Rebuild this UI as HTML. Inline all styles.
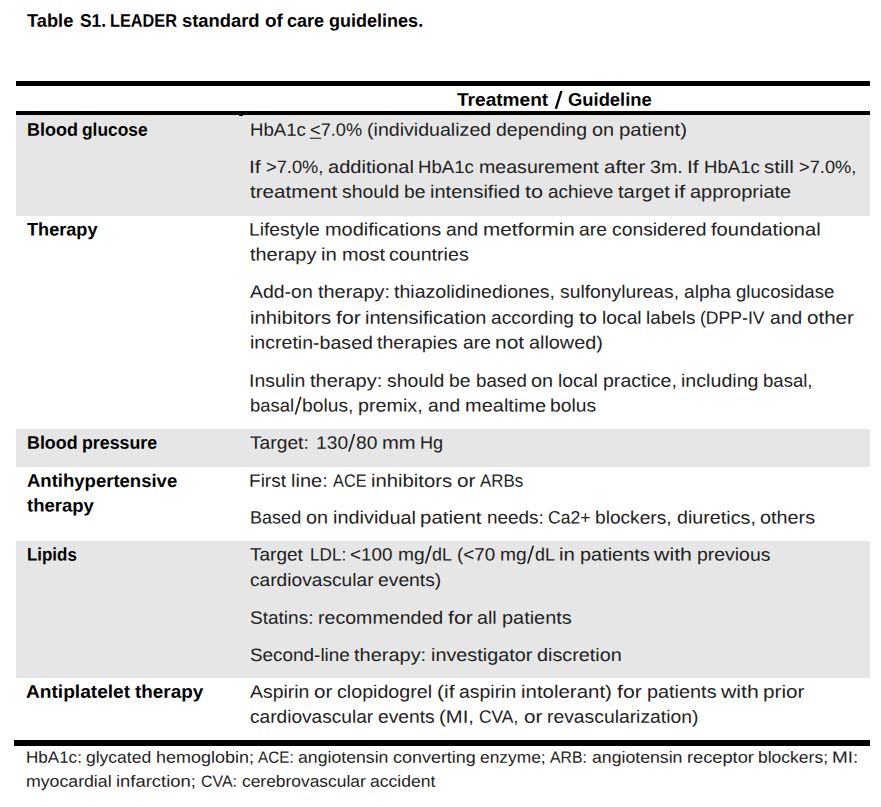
<!DOCTYPE html>
<html><head><meta charset="utf-8"><title>Table S1. LEADER standard of care guidelines</title>
<style>
html,body{margin:0;padding:0;background:#fff;}
body{width:881px;height:807px;position:relative;overflow:hidden;font-family:"Liberation Sans",sans-serif;text-rendering:geometricPrecision;}
.g{position:absolute;left:16px;width:854px;background:#e6e6e6;}
.k{position:absolute;background:#000;}
.l{position:absolute;left:0;height:30px;line-height:30px;white-space:nowrap;}
.l span{position:absolute;top:0;transform-origin:0 0;white-space:nowrap;}
.b{font-weight:bold;font-size:18.2px;color:#000;}
.r{font-size:18px;color:#222;}
.f{font-size:16.3px;color:#222;}
u{text-decoration:none;border-bottom:1.2px solid #111;display:inline-block;line-height:15px;}
</style></head><body>
<div class="g" style="top:115px;height:101px"></div>
<div class="g" style="top:429px;height:37.5px"></div>
<div class="g" style="top:541px;height:137px"></div>
<div class="k" style="left:16px;width:854px;top:81px;height:5px"></div>
<div class="k" style="left:16px;width:854px;top:111px;height:4px"></div>
<div class="k" style="left:239px;width:4px;top:115px;height:1px"></div>
<div class="k" style="left:14px;width:856px;top:740px;height:5.8px"></div>
<div class="l b" style="top:5.000px">
<span style="left:27.09px;transform:matrix(1.0034,0.0006,0,1,0,0.70)">Table</span>
<span style="left:79.53px;transform:matrix(0.9568,0.0006,0,1,0,0.70)">S1.</span>
<span style="left:110.41px;transform:matrix(0.8962,0.0006,0,1,0,0.70)">LEADER</span>
<span style="left:182.21px;transform:matrix(1.0094,0.0006,0,1,0,0.70)">standard</span>
<span style="left:264.53px;transform:matrix(1.0412,0.0006,0,1,0,0.70)">of</span>
<span style="left:287.16px;transform:matrix(0.9913,0.0006,0,1,0,0.70)">care</span>
<span style="left:329.02px;transform:matrix(0.9911,0.0006,0,1,0,0.70)">guidelines.</span>
</div>
<div class="l b" style="top:84.000px">
<span style="left:457.09px;transform:matrix(1.0489,0.0006,0,1,0,0.80)">Treatment</span>
<svg style="position:absolute;left:0;top:-84.000px;overflow:visible" width="881" height="10"><polygon fill="#000" points="554.60,108.65 557.05,108.65 562.66,91.05 560.21,91.05"/></svg>
<span style="left:567.89px;transform:matrix(1.0110,0.0006,0,1,0,0.80)">Guideline</span>
</div>
<div class="l b" style="top:114.000px">
<span style="left:26.80px;transform:matrix(0.9879,0.0006,0,1,0,0.80)">Blood</span>
<span style="left:82.49px;transform:matrix(0.9539,0.0006,0,1,0,0.80)">glucose</span>
</div>
<div class="l b" style="top:214.000px">
<span style="left:26.95px;transform:matrix(0.9965,0.0006,0,1,0,0.50)">Therapy</span>
</div>
<div class="l b" style="top:427.000px">
<span style="left:27.01px;transform:matrix(0.9812,0.0006,0,1,0,0.75)">Blood</span>
<span style="left:82.32px;transform:matrix(0.9766,0.0006,0,1,0,0.75)">pressure</span>
</div>
<div class="l b" style="top:465.000px">
<span style="left:26.54px;transform:matrix(1.0178,0.0006,0,1,0,0.85)">Antihypertensive</span>
</div>
<div class="l b" style="top:490.000px">
<span style="left:27.17px;transform:matrix(1.0180,0.0006,0,1,0,0.60)">therapy</span>
</div>
<div class="l b" style="top:539.000px">
<span style="left:27.07px;transform:matrix(0.9298,0.0006,0,1,0,0.60)">Lipids</span>
</div>
<div class="l b" style="top:676.000px">
<span style="left:26.42px;transform:matrix(1.0508,0.0006,0,1,0,0.80)">Antiplatelet</span>
<span style="left:135.30px;transform:matrix(1.0373,0.0006,0,1,0,0.80)">therapy</span>
</div>
<div class="l r" style="top:114.000px">
<span style="left:249.67px;transform:matrix(1.0348,0.0006,0,1,0,0.80)">HbA1c</span>
<span style="left:310.33px;transform:matrix(1.0121,0.0006,0,1,0,0.80)"><u>&lt;</u>7.0%</span>
<span style="left:367.25px;transform:matrix(1.0886,0.0006,0,1,0,0.80)">(individualized</span>
<span style="left:496.18px;transform:matrix(1.0817,0.0006,0,1,0,0.80)">depending</span>
<span style="left:591.89px;transform:matrix(1.1064,0.0006,0,1,0,0.80)">on</span>
<span style="left:618.80px;transform:matrix(1.1321,0.0006,0,1,0,0.80)">patient)</span>
</div>
<div class="l r" style="top:152.000px">
<span style="left:249.15px;transform:matrix(1.1714,0.0006,0,1,0,0.00)">If</span>
<span style="left:265.62px;transform:matrix(1.0149,0.0006,0,1,0,0.00)">&gt;7.0%,</span>
<span style="left:327.76px;transform:matrix(1.1148,0.0006,0,1,0,0.00)">additional</span>
<span style="left:418.42px;transform:matrix(1.0341,0.0006,0,1,0,0.00)">HbA1c</span>
<span style="left:479.04px;transform:matrix(1.0883,0.0006,0,1,0,0.00)">measurement</span>
<span style="left:603.56px;transform:matrix(1.1475,0.0006,0,1,0,0.00)">after</span>
<span style="left:649.64px;transform:matrix(1.0920,0.0006,0,1,0,0.00)">3m.</span>
<span style="left:687.16px;transform:matrix(1.1714,0.0006,0,1,0,0.00)">If</span>
<span style="left:703.63px;transform:matrix(1.0341,0.0006,0,1,0,0.00)">HbA1c</span>
<span style="left:764.26px;transform:matrix(1.1442,0.0006,0,1,0,0.00)">still</span>
<span style="left:798.76px;transform:matrix(1.0149,0.0006,0,1,0,0.00)">&gt;7.0%,</span>
</div>
<div class="l r" style="top:176.000px">
<span style="left:249.89px;transform:matrix(1.1463,0.0006,0,1,0,0.75)">treatment</span>
<span style="left:341.79px;transform:matrix(1.0781,0.0006,0,1,0,0.75)">should</span>
<span style="left:403.72px;transform:matrix(1.0726,0.0006,0,1,0,0.75)">be</span>
<span style="left:429.94px;transform:matrix(1.1114,0.0006,0,1,0,0.75)">intensified</span>
<span style="left:524.77px;transform:matrix(1.2058,0.0006,0,1,0,0.75)">to</span>
<span style="left:547.61px;transform:matrix(1.0501,0.0006,0,1,0,0.75)">achieve</span>
<span style="left:617.51px;transform:matrix(1.1246,0.0006,0,1,0,0.75)">target</span>
<span style="left:674.02px;transform:matrix(1.2471,0.0006,0,1,0,0.75)">if</span>
<span style="left:689.99px;transform:matrix(1.1113,0.0006,0,1,0,0.75)">appropriate</span>
</div>
<div class="l r" style="top:214.000px">
<span style="left:249.32px;transform:matrix(1.0700,0.0006,0,1,0,0.50)">Lifestyle</span>
<span style="left:324.73px;transform:matrix(1.1067,0.0006,0,1,0,0.50)">modifications</span>
<span style="left:445.74px;transform:matrix(1.0717,0.0006,0,1,0,0.50)">and</span>
<span style="left:482.68px;transform:matrix(1.1480,0.0006,0,1,0,0.50)">metformin</span>
<span style="left:579.30px;transform:matrix(1.0717,0.0006,0,1,0,0.50)">are</span>
<span style="left:611.93px;transform:matrix(1.0729,0.0006,0,1,0,0.50)">considered</span>
<span style="left:711.17px;transform:matrix(1.1182,0.0006,0,1,0,0.50)">foundational</span>
</div>
<div class="l r" style="top:239.000px">
<span style="left:250.10px;transform:matrix(1.1047,0.0006,0,1,0,0.50)">therapy</span>
<span style="left:321.16px;transform:matrix(1.1296,0.0006,0,1,0,0.50)">in</span>
<span style="left:341.73px;transform:matrix(1.1030,0.0006,0,1,0,0.50)">most</span>
<span style="left:389.49px;transform:matrix(1.0915,0.0006,0,1,0,0.50)">countries</span>
</div>
<div class="l r" style="top:276.000px">
<span style="left:250.26px;transform:matrix(1.0802,0.0006,0,1,0,0.70)">Add-on</span>
<span style="left:317.70px;transform:matrix(1.1068,0.0006,0,1,0,0.70)">therapy:</span>
<span style="left:394.43px;transform:matrix(1.0871,0.0006,0,1,0,0.70)">thiazolidinediones,</span>
<span style="left:560.18px;transform:matrix(1.0725,0.0006,0,1,0,0.70)">sulfonylureas,</span>
<span style="left:684.04px;transform:matrix(1.0663,0.0006,0,1,0,0.70)">alpha</span>
<span style="left:735.74px;transform:matrix(1.0350,0.0006,0,1,0,0.70)">glucosidase</span>
</div>
<div class="l r" style="top:302.000px">
<span style="left:249.74px;transform:matrix(1.1268,0.0006,0,1,0,0.75)">inhibitors</span>
<span style="left:335.65px;transform:matrix(1.1803,0.0006,0,1,0,0.75)">for</span>
<span style="left:365.19px;transform:matrix(1.1138,0.0006,0,1,0,0.75)">intensification</span>
<span style="left:491.42px;transform:matrix(1.0628,0.0006,0,1,0,0.75)">according</span>
<span style="left:579.11px;transform:matrix(1.2058,0.0006,0,1,0,0.75)">to</span>
<span style="left:601.96px;transform:matrix(1.0706,0.0006,0,1,0,0.75)">local</span>
<span style="left:646.34px;transform:matrix(1.0498,0.0006,0,1,0,0.75)">labels</span>
<span style="left:700.45px;transform:matrix(0.9786,0.0006,0,1,0,0.75)">(DPP-IV</span>
<span style="left:769.79px;transform:matrix(1.0692,0.0006,0,1,0,0.75)">and</span>
<span style="left:806.65px;transform:matrix(1.1429,0.0006,0,1,0,0.75)">other</span>
</div>
<div class="l r" style="top:327.000px">
<span style="left:249.69px;transform:matrix(1.0870,0.0006,0,1,0,0.60)">incretin-based</span>
<span style="left:377.34px;transform:matrix(1.0885,0.0006,0,1,0,0.60)">therapies</span>
<span style="left:462.70px;transform:matrix(1.0722,0.0006,0,1,0,0.60)">are</span>
<span style="left:495.35px;transform:matrix(1.1673,0.0006,0,1,0,0.60)">not</span>
<span style="left:529.32px;transform:matrix(1.1010,0.0006,0,1,0,0.60)">allowed)</span>
</div>
<div class="l r" style="top:365.000px">
<span style="left:249.10px;transform:matrix(1.0831,0.0006,0,1,0,0.70)">Insulin</span>
<span style="left:310.21px;transform:matrix(1.1100,0.0006,0,1,0,0.70)">therapy:</span>
<span style="left:387.17px;transform:matrix(1.0806,0.0006,0,1,0,0.70)">should</span>
<span style="left:449.24px;transform:matrix(1.0751,0.0006,0,1,0,0.70)">be</span>
<span style="left:475.52px;transform:matrix(1.0376,0.0006,0,1,0,0.70)">based</span>
<span style="left:531.17px;transform:matrix(1.1064,0.0006,0,1,0,0.70)">on</span>
<span style="left:558.08px;transform:matrix(1.0732,0.0006,0,1,0,0.70)">local</span>
<span style="left:602.56px;transform:matrix(1.0858,0.0006,0,1,0,0.70)">practice,</span>
<span style="left:681.18px;transform:matrix(1.0909,0.0006,0,1,0,0.70)">including</span>
<span style="left:763.45px;transform:matrix(1.0310,0.0006,0,1,0,0.70)">basal,</span>
</div>
<div class="l r" style="top:390.000px">
<span style="left:249.91px;transform:matrix(1.0261,0.0006,0,1,0,0.60)">basal</span>
<svg style="position:absolute;left:0;top:-390.000px;overflow:visible" width="881" height="10"><polygon fill="#222" points="294.55,414.45 296.30,414.45 301.69,396.85 299.94,396.85"/></svg>
<span style="left:302.17px;transform:matrix(1.0697,0.0006,0,1,0,0.60)">bolus,</span>
<span style="left:358.30px;transform:matrix(1.0963,0.0006,0,1,0,0.60)">premix,</span>
<span style="left:427.73px;transform:matrix(1.0690,0.0006,0,1,0,0.60)">and</span>
<span style="left:464.58px;transform:matrix(1.1110,0.0006,0,1,0,0.60)">mealtime</span>
<span style="left:550.45px;transform:matrix(1.0723,0.0006,0,1,0,0.60)">bolus</span>
</div>
<div class="l r" style="top:427.000px">
<span style="left:249.87px;transform:matrix(1.0677,0.0006,0,1,0,0.75)">Target:</span>
<span style="left:315.52px;transform:matrix(1.0682,0.0006,0,1,0,0.75)">130</span>
<svg style="position:absolute;left:0;top:-427.000px;overflow:visible" width="881" height="10"><polygon fill="#222" points="348.09,451.60 349.84,451.60 355.27,434.00 353.52,434.00"/></svg>
<span style="left:355.75px;transform:matrix(1.0682,0.0006,0,1,0,0.75)">80</span>
<span style="left:381.91px;transform:matrix(1.1240,0.0006,0,1,0,0.75)">mm</span>
<span style="left:420.39px;transform:matrix(1.0029,0.0006,0,1,0,0.75)">Hg</span>
</div>
<div class="l r" style="top:465.000px">
<span style="left:249.44px;transform:matrix(1.0584,0.0006,0,1,0,0.85)">First</span>
<span style="left:291.22px;transform:matrix(1.1125,0.0006,0,1,0,0.85)">line:</span>
<span style="left:332.70px;transform:matrix(0.9078,0.0006,0,1,0,0.85)">ACE</span>
<span style="left:371.05px;transform:matrix(1.1271,0.0006,0,1,0,0.85)">inhibitors</span>
<span style="left:456.98px;transform:matrix(1.1492,0.0006,0,1,0,0.85)">or</span>
<span style="left:480.13px;transform:matrix(0.9386,0.0006,0,1,0,0.85)">ARBs</span>
</div>
<div class="l r" style="top:502.000px">
<span style="left:249.72px;transform:matrix(1.0031,0.0006,0,1,0,0.60)">Based</span>
<span style="left:305.67px;transform:matrix(1.1046,0.0006,0,1,0,0.60)">on</span>
<span style="left:332.53px;transform:matrix(1.1057,0.0006,0,1,0,0.60)">individual</span>
<span style="left:420.27px;transform:matrix(1.1377,0.0006,0,1,0,0.60)">patient</span>
<span style="left:486.50px;transform:matrix(1.0513,0.0006,0,1,0,0.60)">needs:</span>
<span style="left:548.07px;transform:matrix(0.9734,0.0006,0,1,0,0.60)">Ca2+</span>
<span style="left:595.19px;transform:matrix(1.0636,0.0006,0,1,0,0.60)">blockers,</span>
<span style="left:676.55px;transform:matrix(1.0951,0.0006,0,1,0,0.60)">diuretics,</span>
<span style="left:760.17px;transform:matrix(1.1023,0.0006,0,1,0,0.60)">others</span>
</div>
<div class="l r" style="top:539.000px">
<span style="left:249.77px;transform:matrix(1.0569,0.0006,0,1,0,0.60)">Target</span>
<span style="left:309.50px;transform:matrix(0.9520,0.0006,0,1,0,0.60)">LDL:</span>
<span style="left:350.45px;transform:matrix(1.0455,0.0006,0,1,0,0.60)">&lt;100</span>
<span style="left:397.58px;transform:matrix(1.0662,0.0006,0,1,0,0.60)">mg</span>
<svg style="position:absolute;left:0;top:-539.000px;overflow:visible" width="881" height="10"><polygon fill="#222" points="424.73,563.45 426.48,563.45 431.87,545.85 430.12,545.85"/></svg>
<span style="left:432.35px;transform:matrix(0.9920,0.0006,0,1,0,0.60)">dL</span>
<span style="left:456.96px;transform:matrix(1.0434,0.0006,0,1,0,0.60)">(&lt;70</span>
<span style="left:499.82px;transform:matrix(1.0662,0.0006,0,1,0,0.60)">mg</span>
<svg style="position:absolute;left:0;top:-539.000px;overflow:visible" width="881" height="10"><polygon fill="#222" points="526.97,563.45 528.72,563.45 534.11,545.85 532.36,545.85"/></svg>
<span style="left:534.60px;transform:matrix(0.9920,0.0006,0,1,0,0.60)">dL</span>
<span style="left:559.20px;transform:matrix(1.1315,0.0006,0,1,0,0.60)">in</span>
<span style="left:579.80px;transform:matrix(1.1052,0.0006,0,1,0,0.60)">patients</span>
<span style="left:654.23px;transform:matrix(1.1840,0.0006,0,1,0,0.60)">with</span>
<span style="left:696.87px;transform:matrix(1.0793,0.0006,0,1,0,0.60)">previous</span>
</div>
<div class="l r" style="top:565.000px">
<span style="left:249.69px;transform:matrix(1.0647,0.0006,0,1,0,0.00)">cardiovascular</span>
<span style="left:378.01px;transform:matrix(1.0722,0.0006,0,1,0,0.00)">events)</span>
</div>
<div class="l r" style="top:602.000px">
<span style="left:249.64px;transform:matrix(1.0571,0.0006,0,1,0,0.70)">Statins:</span>
<span style="left:317.84px;transform:matrix(1.0887,0.0006,0,1,0,0.70)">recommended</span>
<span style="left:447.85px;transform:matrix(1.1808,0.0006,0,1,0,0.70)">for</span>
<span style="left:477.40px;transform:matrix(1.0937,0.0006,0,1,0,0.70)">all</span>
<span style="left:501.85px;transform:matrix(1.1051,0.0006,0,1,0,0.70)">patients</span>
</div>
<div class="l r" style="top:640.000px">
<span style="left:249.64px;transform:matrix(1.0501,0.0006,0,1,0,0.00)">Second-line</span>
<span style="left:354.22px;transform:matrix(1.1096,0.0006,0,1,0,0.00)">therapy:</span>
<span style="left:431.14px;transform:matrix(1.1014,0.0006,0,1,0,0.00)">investigator</span>
<span style="left:537.28px;transform:matrix(1.1009,0.0006,0,1,0,0.00)">discretion</span>
</div>
<div class="l r" style="top:676.000px">
<span style="left:250.16px;transform:matrix(1.0778,0.0006,0,1,0,0.80)">Aspirin</span>
<span style="left:314.20px;transform:matrix(1.1477,0.0006,0,1,0,0.80)">or</span>
<span style="left:337.31px;transform:matrix(1.0920,0.0006,0,1,0,0.80)">clopidogrel</span>
<span style="left:437.12px;transform:matrix(1.1718,0.0006,0,1,0,0.80)">(if</span>
<span style="left:459.43px;transform:matrix(1.0790,0.0006,0,1,0,0.80)">aspirin</span>
<span style="left:521.38px;transform:matrix(1.1358,0.0006,0,1,0,0.80)">intolerant)</span>
<span style="left:617.03px;transform:matrix(1.1791,0.0006,0,1,0,0.80)">for</span>
<span style="left:646.54px;transform:matrix(1.1035,0.0006,0,1,0,0.80)">patients</span>
<span style="left:720.85px;transform:matrix(1.1822,0.0006,0,1,0,0.80)">with</span>
<span style="left:763.44px;transform:matrix(1.1527,0.0006,0,1,0,0.80)">prior</span>
</div>
<div class="l r" style="top:701.000px">
<span style="left:249.69px;transform:matrix(1.0619,0.0006,0,1,0,0.80)">cardiovascular</span>
<span style="left:377.68px;transform:matrix(1.0700,0.0006,0,1,0,0.80)">events</span>
<span style="left:439.18px;transform:matrix(1.1263,0.0006,0,1,0,0.80)">(MI,</span>
<span style="left:478.84px;transform:matrix(0.9655,0.0006,0,1,0,0.80)">CVA,</span>
<span style="left:524.16px;transform:matrix(1.1511,0.0006,0,1,0,0.80)">or</span>
<span style="left:547.33px;transform:matrix(1.0731,0.0006,0,1,0,0.80)">revascularization)</span>
</div>
<div class="l f" style="top:742.000px">
<span style="left:26.10px;transform:matrix(1.0462,0.0006,0,1,0,0.80)">HbA1c:</span>
<span style="left:86.34px;transform:matrix(1.0749,0.0006,0,1,0,0.80)">glycated</span>
<span style="left:155.93px;transform:matrix(1.1035,0.0006,0,1,0,0.80)">hemoglobin;</span>
<span style="left:258.24px;transform:matrix(0.9388,0.0006,0,1,0,0.80)">ACE:</span>
<span style="left:298.28px;transform:matrix(1.0861,0.0006,0,1,0,0.80)">angiotensin</span>
<span style="left:393.16px;transform:matrix(1.1020,0.0006,0,1,0,0.80)">converting</span>
<span style="left:480.36px;transform:matrix(1.0662,0.0006,0,1,0,0.80)">enzyme;</span>
<span style="left:550.36px;transform:matrix(0.9717,0.0006,0,1,0,0.80)">ARB:</span>
<span style="left:591.65px;transform:matrix(1.0861,0.0006,0,1,0,0.80)">angiotensin</span>
<span style="left:686.54px;transform:matrix(1.1202,0.0006,0,1,0,0.80)">receptor</span>
<span style="left:757.85px;transform:matrix(1.0744,0.0006,0,1,0,0.80)">blockers;</span>
<span style="left:832.24px;transform:matrix(1.1612,0.0006,0,1,0,0.80)">MI:</span>
</div>
<div class="l f" style="top:766.000px">
<span style="left:26.32px;transform:matrix(1.0870,0.0006,0,1,0,0.80)">myocardial</span>
<span style="left:116.30px;transform:matrix(1.1320,0.0006,0,1,0,0.80)">infarction;</span>
<span style="left:200.60px;transform:matrix(0.9757,0.0006,0,1,0,0.80)">CVA:</span>
<span style="left:242.03px;transform:matrix(1.0680,0.0006,0,1,0,0.80)">cerebrovascular</span>
<span style="left:370.19px;transform:matrix(1.0796,0.0006,0,1,0,0.80)">accident</span>
</div>
</body></html>
